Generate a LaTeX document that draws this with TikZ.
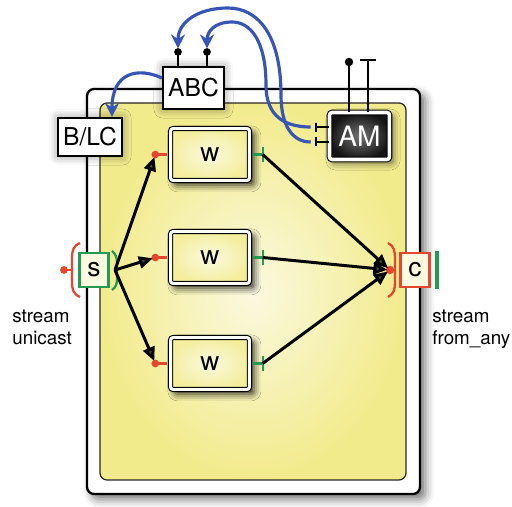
\documentclass[tikz,border=0pt]{standalone}
\usepackage{fontspec}
\setmainfont{TeX Gyre Heros}
\usetikzlibrary{arrows.meta, positioning, calc, shadows.blur}

\definecolor{pinred}{RGB}{230,70,45}
\definecolor{pingreen}{RGB}{35,155,80}
\definecolor{linkblue}{RGB}{55,85,180}
\definecolor{fieldyellow}{RGB}{242,235,140}
\definecolor{fieldlight}{RGB}{251,249,224}

\tikzset{
  frame/.style={draw=black, line width=1.3pt, fill=white, rounded corners=4pt,
    blur shadow={shadow xshift=3pt, shadow yshift=-3pt, shadow blur radius=5pt, shadow opacity=55}},
  field/.style={draw=black!85, line width=0.7pt, rounded corners=4pt,
    inner color=fieldlight, outer color=fieldyellow},
  tagbox/.style={rectangle, draw, line width=0.9pt, fill=white, inner sep=0pt,
    font=\fontsize{14}{16}\selectfont,
    blur shadow={shadow xshift=0pt, shadow yshift=0pt, shadow blur radius=5pt, shadow opacity=45}},
  worker/.style={rectangle, draw=black, line width=0.6pt, double=white, double distance=1.7pt,
    rounded corners=1.5pt, inner color=fieldlight, outer color=fieldyellow!85,
    minimum width=1.58cm, minimum height=1.04cm, font=\fontsize{15}{17}\selectfont,
    blur shadow={shadow xshift=2.5pt, shadow yshift=-2.5pt, shadow blur radius=4pt, shadow opacity=85}},
  manager/.style={rectangle, draw=black, line width=0.6pt, double=white, double distance=2pt,
    rounded corners=1.5pt, inner color=black!55, outer color=black!92, text=white,
    minimum width=1.2cm, minimum height=0.94cm, font=\fontsize{16}{18}\selectfont,
    blur shadow={shadow xshift=2pt, shadow yshift=-2pt, shadow blur radius=4pt, shadow opacity=60}},
  gate/.style={rectangle, line width=1.2pt, fill=fieldlight, minimum width=0.58cm,
    minimum height=0.68cm, inner sep=0pt, font=\fontsize{15}{17}\selectfont},
  redpin/.style={draw=pinred, line width=1.3pt},
  greenpin/.style={draw=pingreen, line width=1.3pt},
  blackpin/.style={draw=black, line width=1.1pt},
  flow/.style={line width=1.7pt, -{Triangle[length=2.8mm, width=2.4mm]}, shorten >=1.5pt},
  signal/.style={draw=linkblue, line width=1.8pt, -{Stealth[length=2.8mm, width=2.8mm]}},
  caption/.style={align=left, font=\fontsize{10.7}{13}\selectfont, inner sep=0pt}
}

\begin{document}
\begin{tikzpicture}[x=0.02cm, y=-0.02cm]
\useasboundingbox (0,0) rectangle (512,507);

% farm container
\draw[frame] (87,89) rectangle (420,494);
\draw[field] (100,103) rectangle (406,480);

% emitter and collector
\node[gate, draw=pingreen] (s) at (94,270) {s};
\node[gate, draw=pinred] (c) at (415,270) {c};

\draw[redpin] (80,243) .. controls (73,246) and (72,251) .. (72,258) -- (72,282) .. controls (72,289) and (73,294) .. (80,297);
\draw[redpin] (72,270) -- (64,270);
\fill[pinred] (64,270) circle (2.2pt);
\draw[greenpin] (112,251) .. controls (116,254) and (117,258) .. (117,263) -- (117,279) .. controls (117,284) and (116,287) .. (112,290);
\coordinate (s-out) at (115,270);

\draw[redpin] (388,243) .. controls (394,246) and (395,251) .. (395,258) -- (395,282) .. controls (395,289) and (394,294) .. (388,297);
\coordinate (c-in) at (390,270);
\fill[pinred] (c-in) circle (2.4pt);
\draw[greenpin, line width=1.8pt] (437,251) -- (437,289);

% workers
\foreach \n/\y in {w1/154.5, w2/257.5, w3/363.5} {
  \node[worker] (\n) at (210,\y) {w};
  \draw[redpin] ([xshift=-1.5pt]\n.west) -- ++(-12,0) coordinate (\n-in);
  \fill[pinred] (\n-in) circle (2.2pt);
  \draw[greenpin] ([xshift=1.5pt]\n.east) -- ++(10,0) coordinate (\n-out);
  \draw[greenpin] ([yshift=4pt]\n-out) -- ([yshift=-4pt]\n-out);
  \draw[flow] (s-out) -- (\n-in);
  \draw[flow] (\n-out) -- (c-in);
}

% managers
\node[tagbox, minimum width=1.23cm, minimum height=0.85cm] (abc) at (193.5,88) {ABC};
\node[tagbox, minimum width=1.29cm, minimum height=0.77cm] (blc) at (90,137) {B/LC};
\node[manager] (am) at (359.5,136) {AM};

\draw[blackpin] ([xshift=-0.31cm]abc.north) -- ++(0,-14) coordinate (abc-p1);
\draw[blackpin] ([xshift=0.27cm]abc.north) -- ++(0,-14) coordinate (abc-p2);
\fill (abc-p1) circle (2.2pt);
\fill (abc-p2) circle (2.2pt);

\draw[blackpin] ([xshift=-0.21cm]am.north) -- ++(0,-50) coordinate (am-t1);
\fill (am-t1) circle (2.4pt);
\draw[blackpin] ([xshift=0.17cm]am.north) -- ++(0,-52) coordinate (am-t2);
\draw[blackpin] (am-t2) ++(-8,0) -- ++(16,0);

\draw[blackpin] ([yshift=0.18cm]am.west) -- ++(-13,0) coordinate (am-p1);
\draw[blackpin] ([yshift=-0.12cm]am.west) -- ++(-13,0) coordinate (am-p2);
\draw[blackpin] (am-p1) ++(0,-4.5) -- ++(0,9);
\draw[blackpin] (am-p2) ++(0,-4.5) -- ++(0,9);

% control links
\draw[signal, shorten <=3pt, shorten >=2pt] (am-p1) .. controls (278,127) and (266,110) .. (266,85)
  .. controls (266,40) and (250,22) .. (232,22) .. controls (214,22) and (207,32) .. (abc-p2);
\draw[signal, shorten <=3pt, shorten >=2pt] (am-p2) .. controls (292,142) and (281,125) .. (281,95)
  .. controls (281,35) and (258,8) .. (228,8) .. controls (198,8) and (178,22) .. (abc-p1);
\draw[signal] ([yshift=0.2cm]abc.west) .. controls (138,67) and (112,72) .. ([xshift=0.44cm]blc.north);

% labels
\node[caption, anchor=base west] (lbl-s) at (12,345) {stream\\unicast};
\node[caption, anchor=base west] (lbl-c) at (432,345) {stream\\from\_any};
\end{tikzpicture}
\end{document}
